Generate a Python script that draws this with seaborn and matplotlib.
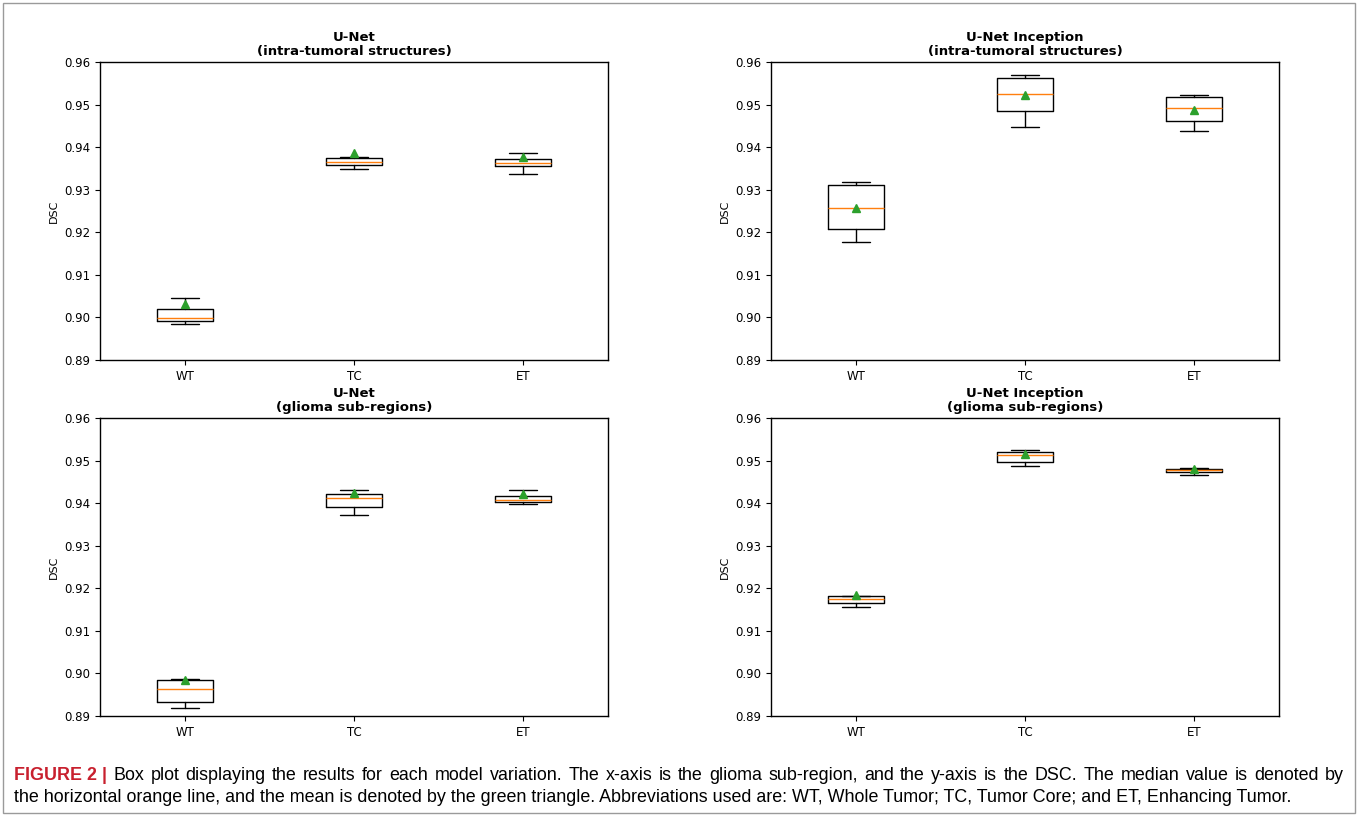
import numpy as np
import matplotlib
matplotlib.use("Agg")
import matplotlib.pyplot as plt
import seaborn as sns
from matplotlib.patches import Rectangle

# sub-regions on the x-axis
regions = ["WT", "TC", "ET"]

# panel titles (top-left, top-right, bottom-left, bottom-right)
titles = ["U-Net\n(intra-tumoral structures)",
          "U-Net Inception\n(intra-tumoral structures)",
          "U-Net\n(glioma sub-regions)",
          "U-Net Inception\n(glioma sub-regions)"]

# box statistics per panel, one value per region (WT, TC, ET)
whisker_low = [[0.8985, 0.9349, 0.9337],
               [0.9178, 0.9447, 0.9438],
               [0.8919, 0.9371, 0.9399],
               [0.9155, 0.9487, 0.9465]]
quart_1 = [[0.8992, 0.9358, 0.9356],
           [0.9208, 0.9485, 0.9462],
           [0.8933, 0.9390, 0.9403],
           [0.9166, 0.9497, 0.9472]]
medians = [[0.8999, 0.9365, 0.9363],
           [0.9257, 0.9524, 0.9491],
           [0.8964, 0.9412, 0.9408],
           [0.9175, 0.9513, 0.9477]]
quart_3 = [[0.9020, 0.9375, 0.9372],
           [0.9311, 0.9563, 0.9518],
           [0.8985, 0.9421, 0.9417],
           [0.9181, 0.9520, 0.9481]]
whisker_high = [[0.9046, 0.9377, 0.9386],
                [0.9318, 0.9570, 0.9522],
                [0.8987, 0.9430, 0.9430],
                [0.9183, 0.9525, 0.9483]]
means = [[0.9031, 0.9386, 0.9378],
         [0.9256, 0.9522, 0.9488],
         [0.8984, 0.9423, 0.9421],
         [0.9185, 0.9516, 0.9480]]

yticks = [0.89, 0.90, 0.91, 0.92, 0.93, 0.94, 0.95, 0.96]

caption_lead = "FIGURE 2 |"
caption_1 = ("Box plot displaying the results for each model variation. The x-axis is the glioma "
             "sub-region, and the y-axis is the DSC. The median value is denoted by")
caption_2 = ("the horizontal orange line, and the mean is denoted by the green triangle. "
             "Abbreviations used are: WT, Whole Tumor; TC, Tumor Core; and ET, Enhancing Tumor.")

sns.set_theme(style="ticks", rc={"axes.edgecolor": "black", "text.color": "black",
                                 "axes.labelcolor": "black", "xtick.color": "black",
                                 "ytick.color": "black", "axes.linewidth": 1.0})
plt.rcParams["font.family"] = ["DejaVu Sans"]

fig = plt.figure(figsize=(13.58, 8.16), dpi=100)
W, H = 1358, 816
# axes boxes in pixels: left, top, width, height
boxes = [(100, 62, 508, 298), (771, 62, 508, 298),
         (100, 418, 508, 298), (771, 418, 508, 298)]

for i, (l, t, w, h) in enumerate(boxes):
    ax = fig.add_axes([l / W, 1 - (t + h) / H, w / W, h / H])
    stats = []
    for j, r in enumerate(regions):
        stats.append({"label": r, "whislo": whisker_low[i][j], "q1": quart_1[i][j],
                      "med": medians[i][j], "q3": quart_3[i][j],
                      "whishi": whisker_high[i][j], "mean": means[i][j], "fliers": []})
    ax.bxp(stats, widths=0.33, showmeans=True, showfliers=False,
           boxprops=dict(color="black", linewidth=1.0),
           whiskerprops=dict(color="black", linewidth=1.0),
           capprops=dict(color="black", linewidth=1.0),
           medianprops=dict(color="#ff7f0e", linewidth=1.0),
           meanprops=dict(marker="^", markerfacecolor="#2ca02c",
                          markeredgecolor="#2ca02c", markersize=6))
    ax.set_ylim(0.89, 0.96)
    ax.set_yticks(yticks)
    ax.set_yticklabels([f"{v:.2f}" for v in yticks])
    ax.tick_params(labelsize=8.5, length=3.5, width=0.8)
    ax.set_ylabel("DSC", fontsize=8)
    ax.set_title(titles[i], fontsize=9.5, fontweight="bold", linespacing=1.1, pad=5)

# caption: first line justified to the right edge, second line ragged
cap_y1 = 1 - 776 / H
cap_y2 = 1 - 798 / H
cap_size = 12.9
right_px = 1344
renderer = fig.canvas.get_renderer()

words = [(caption_lead, True)] + [(w, False) for w in caption_1.split()]
items = []
for w, bold in words:
    t = fig.text(0, cap_y1, w, fontsize=cap_size, family="Liberation Sans", va="center",
                 fontweight="bold" if bold else "normal",
                 color="#c8202e" if bold else "black")
    items.append((t, t.get_window_extent(renderer).width))
total = sum(wd for _, wd in items)
gap = (right_px - 14 - total) / (len(items) - 1)
x = 14.0
for t, wd in items:
    t.set_x(x / W)
    x += wd + gap

fig.text(14 / W, cap_y2, caption_2, fontsize=cap_size, family="Liberation Sans", va="center")

fig.patches.append(Rectangle((3 / W, 3 / H), 1 - 6 / W, 1 - 6 / H, transform=fig.transFigure,
                             fill=False, edgecolor="#9a9a9a", linewidth=1.0))

fig.savefig("out.png", dpi=100)
